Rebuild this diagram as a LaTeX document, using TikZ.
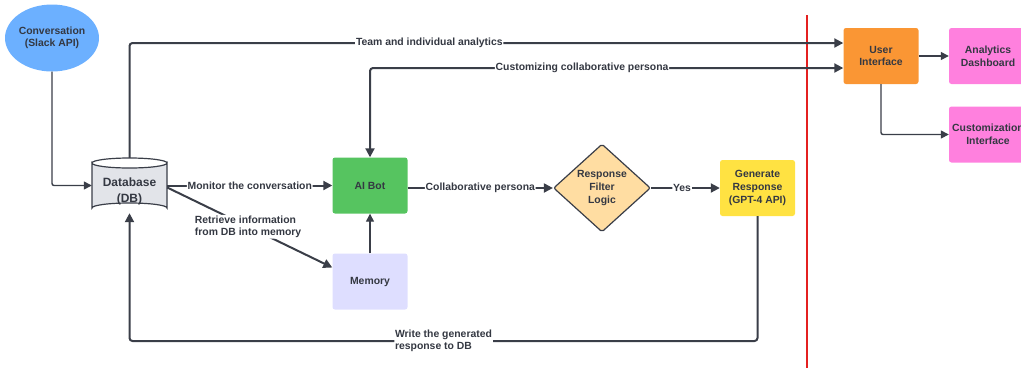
\documentclass[tikz,border=0pt]{standalone}
\usepackage{fontspec}
\setmainfont{Liberation Sans}
\usetikzlibrary{arrows.meta,shapes.geometric}
\definecolor{txt}{RGB}{52,56,66}
\definecolor{ln}{RGB}{58,62,72}
\definecolor{convblue}{RGB}{108,176,255}
\definecolor{dbgrey}{RGB}{226,228,233}
\definecolor{botgreen}{RGB}{86,196,96}
\definecolor{memlav}{RGB}{222,222,255}
\definecolor{filtor}{RGB}{255,221,162}
\definecolor{genyel}{RGB}{255,226,66}
\definecolor{uior}{RGB}{250,150,52}
\definecolor{pinkb}{RGB}{255,128,222}
\definecolor{redl}{RGB}{228,32,32}
\tikzset{
  x=1pt, y=-1pt,
  every node/.style={font=\bfseries\fontsize{10.4}{12.6}\selectfont, text=txt},
  box/.style={rectangle, rounded corners=2.5pt, minimum width=75pt, minimum height=56pt, align=center, inner sep=1pt},
  conn/.style={draw=ln, line width=2pt, rounded corners=3pt, -{Triangle[length=9pt,width=9pt]}},
  biconn/.style={conn, {Triangle[length=9pt,width=9pt]}-{Triangle[length=9pt,width=9pt]}},
  thinconn/.style={draw=ln, line width=1.4pt, rounded corners=2pt, -{Triangle[length=8pt,width=8pt]}},
  lbl/.style={fill=white, inner sep=0.8pt}
}
\begin{document}
\begin{tikzpicture}
\useasboundingbox (0,0) rectangle (1021,368);
\clip (0,0) rectangle (1021,368);
% nodes
\node[ellipse, fill=convblue, minimum width=86pt, minimum height=67pt, align=center, inner sep=0pt] (conv) at (52,38) {Conversation\\(Slack API)};
\fill[dbgrey, draw=ln, line width=1.2pt] (92,163) -- (92,208) arc[start angle=180, end angle=360, x radius=37.5, y radius=5] -- (167,163) arc[start angle=0, end angle=180, x radius=37.5, y radius=5] -- cycle;
\draw[ln, line width=1.2pt] (92,163) arc[start angle=180, end angle=360, x radius=37.5, y radius=5];
\node[box, minimum width=75pt, minimum height=55pt] (db) at (129.5,185.5) {};
\node[align=center, font=\bfseries\fontsize{12}{15.5}\selectfont] (dbtxt) at ([yshift=-6pt]db.center) {Database\\(DB)};
\node[box, fill=botgreen] (aibot) at (370,185.5) {AI Bot};
\node[box, fill=memlav] (mem) at (370,281.5) {Memory};
\node[diamond, aspect=1.1, inner sep=0pt, fill=filtor, draw=ln, line width=1.2pt, rounded corners=2pt, align=center, minimum width=97pt, minimum height=88pt] (filt) at (602,188) {Response\\Filter\\Logic};
\node[box, fill=genyel] (gen) at (757.5,188) {Generate\\Response\\(GPT-4 API)};
\node[box, fill=uior] (ui) at (881,56) {User\\Interface};
\node[box, fill=pinkb, minimum width=78pt] (dash) at (988,56) {Analytics\\Dashboard};
\node[box, fill=pinkb, minimum width=78pt] (cust) at (988,134.5) {Customization\\Interface};
\coordinate (bot) at (0,341);
% red divider
\draw[redl, line width=2pt] (807,15) -- (807,368);
% connectors
\draw[thinconn] (conv.south) |- (db.west);
\draw[conn] (db.north) |- node[lbl, pos=0.71] {Team and individual analytics} ([yshift=13pt]ui.west);
\draw[biconn] ([yshift=-12pt]ui.west) -| node[lbl, pos=0.276] {Customizing collaborative persona} (aibot.north);
\draw[conn] (db.east) -- node[lbl] {Monitor the conversation} (aibot.west);
\draw[conn] ([yshift=-2pt]db.east) -- node[lbl, align=left, pos=0.49] {Retrieve information\\from DB into memory} ([yshift=14pt]mem.west);
\draw[thinconn] (mem.north) -- (aibot.south);
\draw[conn] (aibot.east |- filt.west) -- node[lbl] {Collaborative persona} (filt.west);
\draw[conn] (filt.east) -- node[lbl, pos=0.45] {Yes} (gen.west);
\draw[conn] (gen.south) -- (gen.south |- bot) -- node[lbl, align=left, pos=0.5] {Write the generated\\response to DB} (db.south |- bot) -- (db.south);
\draw[thinconn] (ui.east) -- (dash.west);
\draw[thinconn] (ui.south) |- (cust.west);
\end{tikzpicture}
\end{document}
